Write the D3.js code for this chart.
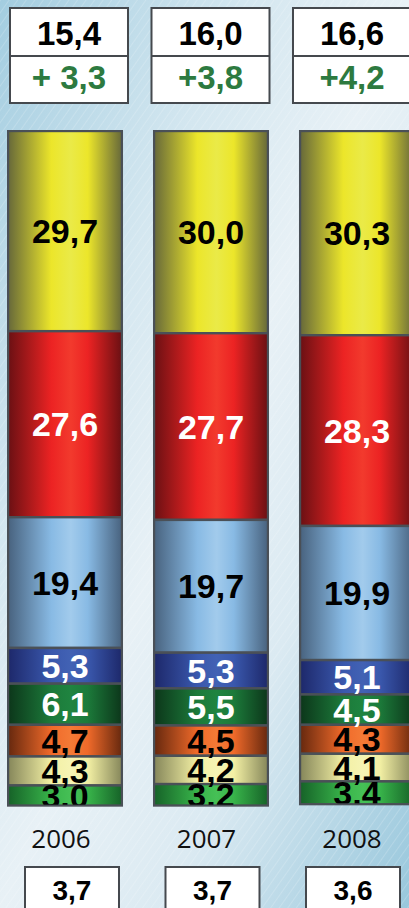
<!DOCTYPE html>
<html>
<head>
<meta charset="utf-8">
<script src="https://cdn.jsdelivr.net/npm/d3@7"></script>
<style>
  html, body { margin: 0; padding: 0; overflow: hidden; }
  svg { display: block; }
</style>
</head>
<body>
<div class="canvas"></div>
<script>
// data
const years = ['2006', '2007', '2008'];
const categories = ['yellow', 'red', 'lightblue', 'blue', 'darkgreen', 'orange', 'paleyellow', 'green'];
const shares2006 = [29.7, 27.6, 19.4, 5.3, 6.1, 4.7, 4.3, 3.0];
const shares2007 = [30.0, 27.7, 19.7, 5.3, 5.5, 4.5, 4.2, 3.2];
const shares2008 = [30.3, 28.3, 19.9, 5.1, 4.5, 4.3, 4.1, 3.4];
const totals = [15.4, 16.0, 16.6];
const changeLabels = ['+ 3,3', '+3,8', '+4,2'];
const bottomValues = [3.7, 3.7, 3.6];

const dims = { width: 409, height: 908, barTop: 131 };

// colours per category: [edge, centre, highlight, label]
const palette = {
  yellow:     ['#66683a', '#ece62a', '#eaea48', '#000'],
  red:        ['#6a1013', '#ec2323', '#f23a2d', '#fff'],
  lightblue:  ['#48627e', '#88bae4', '#a2cbec', '#000'],
  blue:       ['#1d286a', '#3a58ad', '#4262b4', '#fff'],
  darkgreen:  ['#0c361a', '#1c7a3a', '#1f8440', '#fff'],
  orange:     ['#66280e', '#f06a2a', '#f47a36', '#000'],
  paleyellow: ['#85865a', '#f3f0a4', '#f6f4b4', '#000'],
  green:      ['#166228', '#38b44a', '#46c056', '#000']
};

const comma = (v) => d3.format('.1f')(v).replace('.', ',');

const svg = d3.select('.canvas').append('svg')
  .attr('width', dims.width)
  .attr('height', dims.height);

const defs = svg.append('defs');

// background gradient + hatching
const bg = defs.append('linearGradient').attr('id', 'bg')
  .attr('x1', 0).attr('y1', 0).attr('x2', 1).attr('y2', 1);
[[0, '#a3cde0'], [0.3, '#d4e7f0'], [0.5, '#e8f1f6'], [0.7, '#dbeaf2'], [1, '#98c7dc']]
  .forEach(([o, c]) => bg.append('stop').attr('offset', o).attr('stop-color', c));

const hatch = defs.append('pattern').attr('id', 'hatch')
  .attr('width', 7).attr('height', 7)
  .attr('patternUnits', 'userSpaceOnUse')
  .attr('patternTransform', 'rotate(35)');
hatch.append('line')
  .attr('x1', 0).attr('y1', 0).attr('x2', 0).attr('y2', 7)
  .attr('stroke', '#ffffff').attr('stroke-opacity', 0.35).attr('stroke-width', 1);

svg.append('rect').attr('width', dims.width).attr('height', dims.height).attr('fill', 'url(#bg)');
svg.append('rect').attr('width', dims.width).attr('height', dims.height).attr('fill', 'url(#hatch)');

// gradients for the cylinders
categories.forEach((c) => {
  const [edge, mid, hi] = palette[c];
  const g = defs.append('linearGradient').attr('id', 'g-' + c)
    .attr('x1', 0).attr('y1', 0).attr('x2', 1).attr('y2', 0);
  [[0, edge], [0.38, mid], [0.55, hi], [0.7, mid], [1, edge]]
    .forEach(([o, col]) => g.append('stop').attr('offset', o).attr('stop-color', col));
});

// scales
const x = d3.scaleBand().domain(years).range([8, 414]).paddingInner(0.219);
const y = d3.scaleLinear().domain([0, 100]).range([dims.barTop, dims.barTop + 674]);
const xTop = d3.scaleBand().domain(years).range([10, 411]).paddingInner(0.166);
const xBottom = d3.scaleBand().domain(years).range([25, 400]).paddingInner(0.331);
const xYear = d3.scalePoint().domain(years).range([61, 352]);

const allShares = [shares2006, shares2007, shares2008];

// build stacked rows
const stacks = years.map((yr, i) => {
  let acc = 0;
  return allShares[i].map((v, j) => {
    const d = { year: yr, cat: categories[j], value: v, y0: acc, y1: acc + v };
    acc += v;
    return d;
  });
});

stacks.forEach((segs, i) => {
  const yr = years[i];
  const total = segs[segs.length - 1].y1;
  defs.append('clipPath').attr('id', 'clip-' + yr)
    .append('rect')
    .attr('x', x(yr)).attr('y', y(0))
    .attr('width', x.bandwidth()).attr('height', y(total) - y(0));

  const bar = svg.append('g').attr('clip-path', `url(#clip-${yr})`);

  bar.selectAll('rect')
    .data(segs)
    .enter()
    .append('rect')
    .attr('x', x(yr))
    .attr('y', (d) => y(d.y0))
    .attr('width', x.bandwidth())
    .attr('height', (d) => y(d.y1) - y(d.y0))
    .attr('fill', (d) => `url(#g-${d.cat})`)
    .attr('stroke', '#4a5057')
    .attr('stroke-width', 2.4);

  bar.selectAll('text')
    .data(segs)
    .enter()
    .append('text')
    .attr('x', x(yr) + x.bandwidth() / 2)
    .attr('y', (d) => (y(d.y0) + y(d.y1)) / 2 + 12)
    .attr('text-anchor', 'middle')
    .attr('font-family', 'Liberation Sans, Arial, sans-serif')
    .attr('font-weight', 'bold')
    .attr('font-size', 34)
    .attr('fill', (d) => palette[d.cat][3])
    .text((d) => comma(d.value));

  // bar outline
  svg.append('rect')
    .attr('x', x(yr)).attr('y', y(0))
    .attr('width', x.bandwidth()).attr('height', y(total) - y(0))
    .attr('fill', 'none')
    .attr('stroke', '#4a5057')
    .attr('stroke-width', 2);
});

// top boxes
const topBoxes = svg.append('g');
years.forEach((yr, i) => {
  const bx = xTop(yr), bw = xTop.bandwidth();
  topBoxes.append('rect')
    .attr('x', bx).attr('y', 8).attr('width', bw).attr('height', 95)
    .attr('fill', '#fff').attr('stroke', '#45494e').attr('stroke-width', 2);
  topBoxes.append('line')
    .attr('x1', bx).attr('x2', bx + bw).attr('y1', 56).attr('y2', 56)
    .attr('stroke', '#45494e').attr('stroke-width', 2);
  topBoxes.append('text')
    .attr('x', bx + bw / 2).attr('y', 45)
    .attr('text-anchor', 'middle')
    .attr('font-family', 'Liberation Sans, Arial, sans-serif')
    .attr('font-weight', 'bold').attr('font-size', 33)
    .attr('fill', '#000')
    .text(comma(totals[i]));
  topBoxes.append('text')
    .attr('x', bx + bw / 2).attr('y', 89)
    .attr('text-anchor', 'middle')
    .attr('font-family', 'Liberation Sans, Arial, sans-serif')
    .attr('font-weight', 'bold').attr('font-size', 33)
    .attr('fill', '#2d7a40')
    .text(changeLabels[i]);
});

// year labels
svg.selectAll('.year')
  .data(years)
  .enter()
  .append('text')
  .attr('class', 'year')
  .attr('x', (d) => xYear(d))
  .attr('y', 848)
  .attr('text-anchor', 'middle')
  .attr('font-family', 'Open Sans, sans-serif')
  .attr('font-size', 26)
  .attr('fill', '#111')
  .text((d) => d);

// bottom boxes
years.forEach((yr, i) => {
  const bx = xBottom(yr), bw = xBottom.bandwidth();
  svg.append('rect')
    .attr('x', bx).attr('y', 867).attr('width', bw).attr('height', 60)
    .attr('fill', '#fff').attr('stroke', '#45494e').attr('stroke-width', 2);
  svg.append('text')
    .attr('x', bx + bw / 2).attr('y', 900)
    .attr('text-anchor', 'middle')
    .attr('font-family', 'Liberation Sans, Arial, sans-serif')
    .attr('font-weight', 'bold').attr('font-size', 28)
    .attr('fill', '#000')
    .text(comma(bottomValues[i]));
});
</script>
</body>
</html>
